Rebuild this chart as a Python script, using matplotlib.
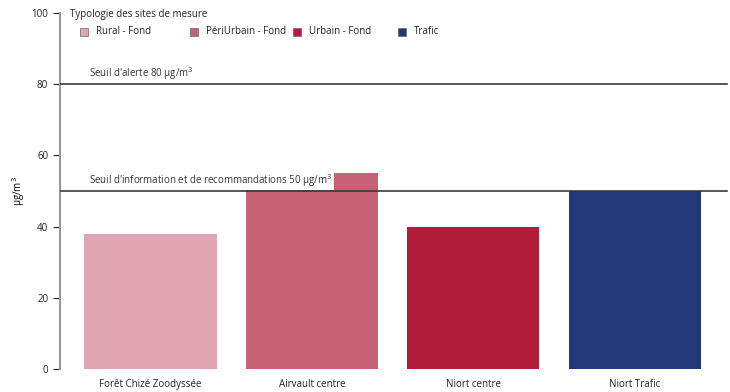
import matplotlib.pyplot as plt
from matplotlib.patches import Rectangle

sites = ["Forêt Chizé Zoodyssée", "Airvault centre", "Niort centre", "Niort Trafic"]
valeurs = [38, 55, 40, 50]
typologie = ["Rural - Fond", "PériUrbain - Fond", "Urbain - Fond", "Trafic"]
couleurs = ["#e0a5b2", "#c86073", "#b01c3a", "#233879"]
seuils = [80, 50]
seuil_labels = ["Seuil d'alerte 80 µg/m$^3$",
                "Seuil d'information et de recommandations 50 µg/m$^3$"]

plt.rcParams['font.family'] = ['Open Sans', 'DejaVu Sans']

W, H = 730, 392
fig = plt.figure(figsize=(W / 100, H / 100), dpi=100)
ax = fig.add_axes([60/W, 23/H, 670/W, 356/H])

x = list(range(len(sites)))
ax.bar(x, valeurs, width=0.82, color=couleurs, zorder=2)

for s, lab in zip(seuils, seuil_labels):
    ax.axhline(s, xmin=0, xmax=667/670, color="#3a3a3a", lw=1.2, zorder=3)
    ax.text(-0.38, s + 0.6, lab, fontsize=7, color="#333333", va="bottom",
            ha="left", zorder=4,
            bbox=dict(facecolor="white", edgecolor="none", pad=1.0))

ax.set_xlim(-0.56, 3.59)
ax.set_ylim(0, 100)
ax.set_yticks([0, 20, 40, 60, 80, 100])
ax.set_xticks(x)
ax.set_xticklabels(sites, fontsize=7, color="#222222")
ax.tick_params(axis="y", labelsize=7, colors="#222222", length=5, width=0.8)
ax.tick_params(axis="x", length=0, pad=7)
for sp in ["top", "right", "bottom"]:
    ax.spines[sp].set_visible(False)
ax.spines["left"].set_color("#999999")
ax.spines["left"].set_linewidth(1.5)
ax.set_ylabel("µg/m$^3$", fontsize=7, labelpad=3)

# legende (placee a la main, colonnes de largeur fixe)
fig.text(70/W, 1 - 15/H, "Typologie des sites de mesure", fontsize=7,
         color="#222222", va="center", ha="left")
leg_x = [80, 190, 293, 398]
for lx, c, t in zip(leg_x, couleurs, typologie):
    fig.add_artist(Rectangle((lx/W, 1 - 36/H), 8/W, 8/H, facecolor=c,
                             edgecolor="#666666", linewidth=0.5,
                             transform=fig.transFigure))
    fig.text((lx + 16)/W, 1 - 32/H, t, fontsize=7, color="#222222",
             va="center", ha="left")

fig.savefig("out.png", dpi=100)
